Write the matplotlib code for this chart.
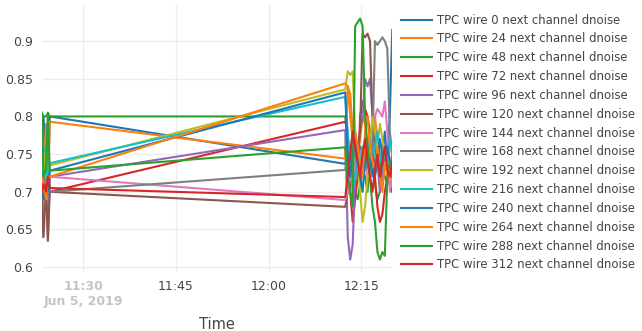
import pandas as pd
import matplotlib
matplotlib.use("Agg")
import matplotlib.pyplot as plt

# minutes after 11:00 on Jun 5, 2019
left_minutes = [23.3, 23.6, 24.0, 24.3, 24.6]
right_minutes = [72.4, 72.8, 73.2, 73.6, 74.0, 74.4, 74.8, 75.2, 75.6, 76.0,
                 76.4, 76.8, 77.2, 77.6, 78.0, 78.4, 78.8, 79.2, 79.6, 80.0]

wires = [0, 24, 48, 72, 96, 120, 144, 168, 192, 216, 240, 264, 288, 312]

left_values = [
    [0.70, 0.80, 0.72, 0.70, 0.80],
    [0.80, 0.72, 0.79, 0.695, 0.793],
    [0.805, 0.80, 0.80, 0.805, 0.80],
    [0.71, 0.69, 0.70, 0.71, 0.70],
    [0.64, 0.72, 0.70, 0.635, 0.72],
    [0.70, 0.64, 0.71, 0.635, 0.70],
    [0.72, 0.70, 0.715, 0.70, 0.72],
    [0.69, 0.70, 0.73, 0.80, 0.70],
    [0.73, 0.75, 0.72, 0.715, 0.735],
    [0.72, 0.76, 0.75, 0.70, 0.738],
    [0.70, 0.69, 0.71, 0.70, 0.728],
    [0.72, 0.71, 0.69, 0.72, 0.72],
    [0.805, 0.72, 0.73, 0.80, 0.728],
    [0.70, 0.71, 0.70, 0.72, 0.705],
]

right_values = [
    [0.737, 0.76, 0.74, 0.78, 0.75, 0.72, 0.76, 0.74, 0.73, 0.77, 0.75, 0.72, 0.74, 0.76, 0.73, 0.75, 0.78, 0.74, 0.80, 0.915],
    [0.744, 0.84, 0.83, 0.78, 0.76, 0.74, 0.77, 0.80, 0.79, 0.76, 0.78, 0.75, 0.80, 0.77, 0.74, 0.76, 0.73, 0.75, 0.72, 0.74],
    [0.80, 0.76, 0.74, 0.72, 0.70, 0.69, 0.71, 0.73, 0.72, 0.70, 0.74, 0.76, 0.71, 0.69, 0.70, 0.73, 0.72, 0.71, 0.74, 0.72],
    [0.793, 0.78, 0.70, 0.66, 0.69, 0.72, 0.80, 0.82, 0.81, 0.80, 0.78, 0.75, 0.72, 0.68, 0.66, 0.67, 0.70, 0.72, 0.71, 0.70],
    [0.782, 0.64, 0.61, 0.63, 0.72, 0.75, 0.78, 0.80, 0.85, 0.84, 0.85, 0.80, 0.76, 0.74, 0.70, 0.72, 0.74, 0.76, 0.73, 0.75],
    [0.68, 0.70, 0.72, 0.74, 0.73, 0.76, 0.78, 0.91, 0.905, 0.91, 0.90, 0.80, 0.76, 0.74, 0.72, 0.75, 0.73, 0.76, 0.74, 0.72],
    [0.689, 0.70, 0.72, 0.71, 0.74, 0.73, 0.75, 0.76, 0.74, 0.72, 0.75, 0.78, 0.80, 0.81, 0.805, 0.80, 0.82, 0.78, 0.70, 0.72],
    [0.729, 0.77, 0.74, 0.76, 0.75, 0.73, 0.74, 0.72, 0.75, 0.73, 0.74, 0.76, 0.90, 0.895, 0.90, 0.905, 0.90, 0.89, 0.78, 0.75],
    [0.836, 0.86, 0.855, 0.86, 0.78, 0.74, 0.70, 0.66, 0.68, 0.72, 0.76, 0.80, 0.78, 0.76, 0.79, 0.77, 0.75, 0.74, 0.76, 0.75],
    [0.826, 0.78, 0.74, 0.70, 0.72, 0.75, 0.74, 0.76, 0.73, 0.75, 0.77, 0.74, 0.76, 0.78, 0.75, 0.73, 0.76, 0.74, 0.77, 0.75],
    [0.832, 0.74, 0.72, 0.75, 0.77, 0.74, 0.72, 0.70, 0.74, 0.76, 0.73, 0.75, 0.72, 0.74, 0.77, 0.75, 0.73, 0.76, 0.74, 0.73],
    [0.844, 0.84, 0.80, 0.77, 0.78, 0.76, 0.74, 0.72, 0.78, 0.80, 0.76, 0.74, 0.73, 0.76, 0.72, 0.70, 0.74, 0.72, 0.73, 0.71],
    [0.759, 0.72, 0.70, 0.68, 0.92, 0.925, 0.93, 0.92, 0.80, 0.76, 0.72, 0.68, 0.66, 0.62, 0.61, 0.62, 0.615, 0.72, 0.74, 0.72],
    [0.693, 0.72, 0.75, 0.78, 0.76, 0.74, 0.72, 0.75, 0.77, 0.74, 0.72, 0.70, 0.73, 0.75, 0.72, 0.74, 0.76, 0.73, 0.72, 0.74],
]

colors = ["#1f77b4", "#ff7f0e", "#2ca02c", "#d62728", "#9467bd", "#8c564b", "#e377c2",
          "#7f7f7f", "#bcbd22", "#17becf"]

y_ticks = [0.6, 0.65, 0.7, 0.75, 0.8, 0.85, 0.9]
y_tick_labels = ["0.6", "0.65", "0.7", "0.75", "0.8", "0.85", "0.9"]
x_tick_minutes = [30, 45, 60, 75]
x_tick_labels = ["11:30\nJun 5, 2019", "11:45", "12:00", "12:15"]

base = pd.Timestamp("2019-06-05 11:00")
to_time = lambda mins: [base + pd.Timedelta(minutes=m) for m in mins]
times = to_time(left_minutes + right_minutes)

plt.rcParams["font.family"] = ["DejaVu Sans"]
fig = plt.figure(figsize=(6.42, 3.31), dpi=100)
ax = fig.add_axes([0.065, 0.178, 0.546, 0.807])

for i, wire in enumerate(wires):
    ax.plot(times, left_values[i] + right_values[i], color=colors[i % len(colors)],
            lw=1.5, label=f"TPC wire {wire} next channel dnoise", solid_joinstyle="round")

ax.set_xlim(to_time([23.3])[0], to_time([80.0])[0])
ax.set_ylim(0.5934, 0.948)
ax.set_yticks(y_ticks)
ax.set_yticklabels(y_tick_labels)
ax.set_xticks(to_time(x_tick_minutes))
ax.set_xticklabels(x_tick_labels)

for s in ax.spines.values():
    s.set_visible(False)
ax.grid(True, color="#eeeeee", lw=1)
ax.set_axisbelow(True)
ax.tick_params(length=0, labelsize=9, colors="#444444", pad=6)
# first tick label is drawn faded in the original
first = ax.get_xticklabels()[0]
first.set_color("#c4c4c4")
first.set_fontweight("bold")
ax.set_xlabel("Time", fontsize=10.5, color="#444444", labelpad=6)

fig.legend(loc="upper left", bbox_to_anchor=(0.618, 0.973), frameon=False,
           fontsize=8.4, handlelength=2.6, handletextpad=0.45, labelspacing=0.5,
           borderaxespad=0, labelcolor="#444444")

fig.savefig("out.png", dpi=100)
